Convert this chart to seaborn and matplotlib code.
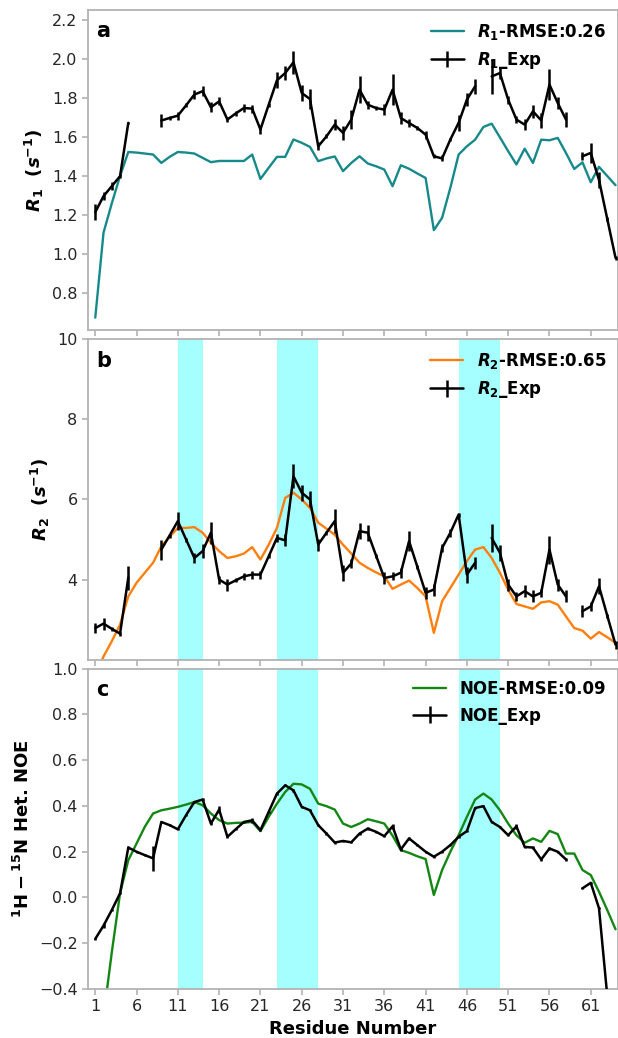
import numpy as np
import matplotlib
matplotlib.use("Agg")
import matplotlib.pyplot as plt
import seaborn as sns

nan = np.nan
residues = np.arange(1, 65)

# R1 relaxation rates (s^-1)
r1_sim = [0.675, 1.11, 1.26, 1.40, 1.523, 1.52, 1.515, 1.51, 1.467, 1.498,
          1.523, 1.52, 1.515, 1.493, 1.471, 1.477, 1.477, 1.477, 1.477, 1.51,
          1.385, 1.442, 1.498, 1.498, 1.587, 1.57, 1.549, 1.476, 1.49, 1.50,
          1.425, 1.467, 1.501, 1.464, 1.45, 1.433, 1.348, 1.455, 1.437, 1.413,
          1.39, 1.123, 1.186, 1.34, 1.51, 1.552, 1.586, 1.651, 1.668, 1.598,
          1.527, 1.459, 1.54, 1.467, 1.586, 1.583, 1.595, 1.518, 1.436, 1.47,
          1.368, 1.447, 1.40, 1.353]
r1_exp = [1.215, 1.297, 1.348, 1.399, 1.672, nan, nan, nan, 1.684, 1.697,
          1.709, 1.762, 1.817, 1.834, 1.752, 1.782, 1.689, 1.72, 1.748, 1.745,
          1.638, 1.765, 1.89, 1.927, 1.982, 1.825, 1.794, 1.552, 1.603, 1.663,
          1.621, 1.689, 1.842, 1.765, 1.748, 1.74, 1.842, 1.697, 1.671, 1.646,
          1.612, 1.501, 1.49, 1.587, 1.672, 1.791, 1.859, nan, 1.91, 1.927,
          1.791, 1.689, 1.663, 1.731, 1.685, 1.868, 1.774, 1.689, nan, 1.501,
          1.518, 1.38, 1.18, 0.981]
r1_err = [0.04, 0.02, 0.02, 0.01, 0.005, nan, nan, nan, 0.035, 0.01,
          0.02, 0.01, 0.025, 0.025, 0.025, 0.02, 0.015, 0.015, 0.02, 0.02,
          0.025, 0.01, 0.04, 0.035, 0.06, 0.04, 0.05, 0.02, 0.01, 0.03,
          0.035, 0.05, 0.07, 0.02, 0.01, 0.03, 0.08, 0.03, 0.02, 0.01,
          0.02, 0.01, 0.015, 0.01, 0.04, 0.035, 0.04, nan, 0.09, 0.03,
          0.02, 0.02, 0.03, 0.035, 0.04, 0.08, 0.03, 0.04, nan, 0.02,
          0.05, 0.04, 0.01, 0.01]

# R2 relaxation rates (s^-1)
r2_sim = [1.6, 2.08, 2.46, 2.875, 3.58, 3.92, 4.17, 4.42, 4.83, 5.07,
          5.29, 5.29, 5.31, 5.17, 4.92, 4.71, 4.54, 4.58, 4.65, 4.81,
          4.5, 4.87, 5.29, 6.04, 6.17, 6.0, 5.79, 5.42, 5.27, 5.12,
          4.87, 4.65, 4.42, 4.29, 4.18, 4.08, 3.77, 3.875, 3.975, 3.79,
          3.58, 2.67, 3.46, 3.79, 4.125, 4.46, 4.75, 4.81, 4.54, 4.17,
          3.75, 3.39, 3.33, 3.27, 3.43, 3.46, 3.375, 3.08, 2.79, 2.725,
          2.525, 2.69, 2.56, 2.42]
r2_exp = [2.79, 2.9, 2.77, 2.65, 4.05, nan, nan, nan, 4.75, 5.1,
          5.46, 5.0, 4.54, 4.71, 5.17, 4.0, 3.875, 3.98, 4.08, 4.125,
          4.125, 4.58, 5.04, 4.98, 6.58, 6.17, 6.0, 4.875, 5.17, 5.46,
          4.17, 4.4, 5.21, 5.17, 4.6, 4.04, 4.08, 4.17, 4.96, 4.32,
          3.67, 3.75, 4.79, 5.17, 5.625, 4.125, 4.42, nan, 5.04, 4.67,
          3.875, 3.58, 3.71, 3.58, 3.67, 4.75, 3.875, 3.58, nan, 3.21,
          3.33, 3.83, 3.1, 2.375]
r2_err = [0.12, 0.15, 0.05, 0.05, 0.3, nan, nan, nan, 0.25, 0.05,
          0.22, 0.05, 0.12, 0.18, 0.28, 0.1, 0.15, 0.05, 0.08, 0.1,
          0.1, 0.05, 0.1, 0.15, 0.3, 0.2, 0.2, 0.15, 0.05, 0.3,
          0.2, 0.12, 0.2, 0.2, 0.05, 0.15, 0.1, 0.12, 0.25, 0.05,
          0.15, 0.15, 0.1, 0.1, 0.05, 0.2, 0.15, nan, 0.35, 0.2,
          0.15, 0.12, 0.15, 0.15, 0.1, 0.35, 0.15, 0.15, nan, 0.15,
          0.12, 0.2, 0.05, 0.1]

# 1H-15N heteronuclear NOE
noe_sim = [-0.9, -0.52, -0.24, 0.018, 0.163, 0.236, 0.309, 0.367, 0.381, 0.388,
           0.396, 0.406, 0.417, 0.403, 0.367, 0.338, 0.323, 0.326, 0.327, 0.33,
           0.29, 0.352, 0.41, 0.461, 0.497, 0.494, 0.475, 0.41, 0.399, 0.384,
           0.323, 0.308, 0.323, 0.342, 0.333, 0.323, 0.27, 0.207, 0.195, 0.18,
           0.168, 0.011, 0.12, 0.2, 0.272, 0.352, 0.428, 0.454, 0.428, 0.381,
           0.323, 0.272, 0.239, 0.258, 0.243, 0.291, 0.277, 0.192, 0.192, 0.12,
           0.098, 0.025, -0.055, -0.139]
noe_exp = [-0.181, -0.123, -0.055, 0.018, 0.218, 0.2, 0.185, 0.171, 0.33, 0.316,
           0.298, 0.36, 0.417, 0.428, 0.323, 0.384, 0.265, 0.298, 0.33, 0.337,
           0.294, 0.374, 0.454, 0.49, 0.468, 0.396, 0.381, 0.316, 0.279, 0.24,
           0.247, 0.241, 0.279, 0.301, 0.287, 0.268, 0.311, 0.21, 0.258, 0.229,
           0.2, 0.178, 0.2, 0.229, 0.265, 0.29, 0.391, 0.399, 0.33, 0.308,
           0.272, 0.311, 0.221, 0.218, 0.166, 0.214, 0.2, 0.166, nan, 0.04,
           0.064, -0.047, -0.43, -1.2]
noe_err = [0.005, 0.01, 0.005, 0.005, 0.005, 0.005, 0.005, 0.055, 0.005, 0.005,
           0.005, 0.005, 0.005, 0.005, 0.005, 0.015, 0.005, 0.005, 0.005, 0.01,
           0.005, 0.005, 0.005, 0.005, 0.005, 0.005, 0.005, 0.005, 0.005, 0.005,
           0.005, 0.005, 0.005, 0.005, 0.005, 0.005, 0.01, 0.005, 0.005, 0.005,
           0.005, 0.005, 0.005, 0.005, 0.005, 0.005, 0.005, 0.005, 0.005, 0.005,
           0.005, 0.01, 0.005, 0.005, 0.005, 0.005, 0.005, 0.005, nan, 0.005,
           0.005, 0.005, 0.005, 0.005]

# Highlighted residue ranges
regions = [(11, 14), (23, 28), (45, 50)]

sim_labels = [r'$\mathbfit{R}_{\mathbf{1}}$-RMSE:0.26',
              r'$\mathbfit{R}_{\mathbf{2}}$-RMSE:0.65',
              'NOE-RMSE:0.09']
exp_labels = [r'$\mathbfit{R}_{\mathbf{1}}$_Exp',
              r'$\mathbfit{R}_{\mathbf{2}}$_Exp',
              'NOE_Exp']
ylabels = [r'$\mathbfit{R}_{\mathbf{1}}$  ($\mathbfit{s}^{\mathbf{-1}}$)',
           r'$\mathbfit{R}_{\mathbf{2}}$  ($\mathbfit{s}^{\mathbf{-1}}$)',
           r'$\mathbf{^{1}H-^{15}N}$ Het. NOE']
letters = ['a', 'b', 'c']
sim_colors = ['#18898b', '#ff7f0e', '#138613']
ylims = [(0.61, 2.25), (2.0, 10.0), (-0.4, 1.0)]
yticks = [np.arange(0.8, 2.21, 0.2), [4, 6, 8, 10], np.arange(-0.4, 1.01, 0.2)]
xticks = np.arange(1, 62, 5)

sns.set_style('ticks')
plt.rcParams['font.family'] = ['DejaVu Sans']
plt.rcParams['mathtext.fontset'] = 'dejavusans'
spine_col = '#b3b3b3'

fig, axes = plt.subplots(3, 1, sharex=True, figsize=(6.18, 10.38), dpi=100)
fig.subplots_adjust(left=0.1424, right=1.0, top=0.9904, bottom=0.0472, hspace=0.028)

sims = [r1_sim, r2_sim, noe_sim]
exps = [r1_exp, r2_exp, noe_exp]
errs = [r1_err, r2_err, noe_err]

for i, ax in enumerate(axes):
    if i > 0:
        for lo, hi in regions:
            ax.axvspan(lo, hi, color='cyan', alpha=0.35, lw=0, zorder=0)
    sns.lineplot(x=residues, y=sims[i], color=sim_colors[i], lw=1.7,
                 label=sim_labels[i], errorbar=None, ax=ax, zorder=2)
    ax.errorbar(residues, exps[i], yerr=errs[i], color='black', lw=1.8,
                elinewidth=1.8, capsize=0, label=exp_labels[i], zorder=3)
    ax.set_ylim(*ylims[i])
    ax.set_yticks(yticks[i])
    ax.set_ylabel(ylabels[i], fontsize=13, fontweight='bold', color='black')
    ax.text(0.015, 0.965, letters[i], transform=ax.transAxes, fontsize=15,
            fontweight='bold', va='top', ha='left', color='black')
    leg = ax.legend(loc='upper right', frameon=False,
                    prop={'weight': 'bold', 'size': 12},
                    borderaxespad=0.3, handlelength=2.0)
    for t in leg.get_texts():
        t.set_color('black')
    for sp in ax.spines.values():
        sp.set_color(spine_col)
        sp.set_linewidth(1.3)
    ax.tick_params(axis='both', colors=spine_col, labelcolor='#262626',
                   labelsize=11.5, length=4, width=1.2, direction='out')

ax = axes[-1]
ax.set_xlim(0.12, 64.3)
ax.set_xticks(xticks)
ax.set_xlabel('Residue Number', fontsize=13, fontweight='bold', color='black')
for a in axes[:-1]:
    a.tick_params(labelbottom=False)

fig.savefig('out.png', dpi=100)
